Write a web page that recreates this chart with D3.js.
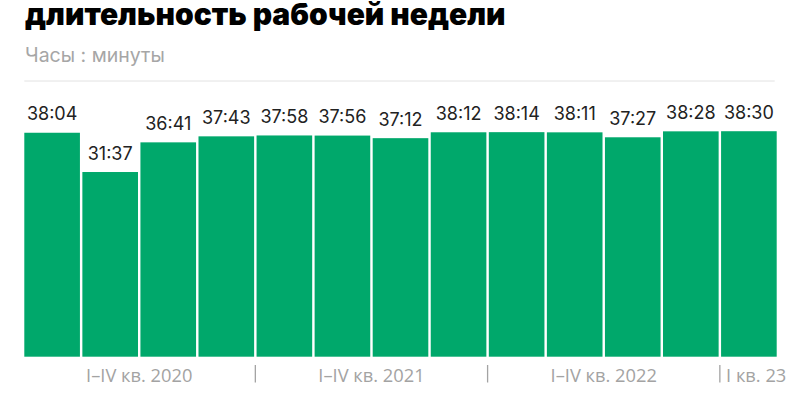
<!DOCTYPE html>
<html><head><meta charset="utf-8">
<script src="https://cdn.jsdelivr.net/npm/d3@7"></script>
<style>
html,body{margin:0;padding:0;background:#fff;}
svg{display:block;}
</style></head>
<body>
<svg id="chart" width="800" height="400"></svg>
<script>
const title = "длительность рабочей недели";
const subtitle = "Часы : минуты";
const categories = ["I кв. 2020","II кв. 2020","III кв. 2020","IV кв. 2020",
  "I кв. 2021","II кв. 2021","III кв. 2021","IV кв. 2021",
  "I кв. 2022","II кв. 2022","III кв. 2022","IV кв. 2022","I кв. 2023"];
const values = [38.04, 31.37, 36.41, 37.43, 37.58, 37.56, 37.12, 38.12, 38.14, 38.11, 37.27, 38.28, 38.30];
const valueLabels = ["38:04","31:37","36:41","37:43","37:58","37:56","37:12","38:12","38:14","38:11","37:27","38:28","38:30"];
const groupLabels = ["I–IV кв. 2020","I–IV кв. 2021","I–IV кв. 2022","I кв. 23"];
const groupStarts = [0, 4, 8, 12];
const groupEnds = [3, 7, 11, 12];

const svg = d3.select("#chart");
const mLeft = 24.3, mRight = 776.7, mTop = 80, mBottom = 356.7;

const x = d3.scaleBand().domain(categories).range([mLeft, mRight]).paddingInner(0.042).paddingOuter(0);
const y = d3.scaleLinear().domain([0, 47]).range([mBottom, mTop]);

svg.append("text").attr("x", 25).attr("y", 25)
  .attr("font-family", "Inter, 'Noto Sans', sans-serif").attr("font-weight", 900)
  .attr("font-size", 30).attr("fill", "#000").text(title);

svg.append("text").attr("x", 25).attr("y", 62)
  .attr("font-family", "Inter, 'Noto Sans', sans-serif")
  .attr("font-size", 19.5).attr("fill", "#a6a6a6").text(subtitle);

svg.append("line").attr("x1", mLeft).attr("x2", mRight - 2).attr("y1", 81).attr("y2", 81)
  .attr("stroke", "#e2e2e2").attr("stroke-width", 1);

svg.append("g").selectAll("rect").data(values).join("rect")
  .attr("x", (d,i) => x(categories[i]))
  .attr("width", x.bandwidth())
  .attr("y", d => y(d))
  .attr("height", d => y(0) - y(d))
  .attr("fill", "#00a86b");

svg.append("g").selectAll("text").data(values).join("text")
  .attr("x", (d,i) => x(categories[i]) + x.bandwidth()/2)
  .attr("y", d => y(d) - 12.5)
  .attr("text-anchor", "middle")
  .attr("font-family", "Inter, 'Noto Sans', sans-serif")
  .attr("font-size", 18).attr("fill", "#222")
  .text((d,i) => valueLabels[i]);

const gx = svg.append("g");
groupLabels.forEach((lab, g) => {
  const s = x(categories[groupStarts[g]]);
  const e = x(categories[groupEnds[g]]) + x.bandwidth();
  const last = g === groupLabels.length - 1;
  gx.append("text")
    .attr("x", last ? s + 5 : (s + e) / 2)
    .attr("y", 382.3)
    .attr("text-anchor", last ? "start" : "middle")
    .attr("font-family", "'Open Sans', sans-serif")
    .attr("font-size", 18.3).attr("fill", "#a3a3a3").text(lab);
  if (g > 0) {
    const sep = s - x.step() * x.paddingInner() / 2;
    gx.append("line").attr("x1", sep).attr("x2", sep).attr("y1", 365).attr("y2", 382.5)
      .attr("stroke", "#a3a3a3").attr("stroke-width", 1.3);
  }
});
</script>
</body></html>
